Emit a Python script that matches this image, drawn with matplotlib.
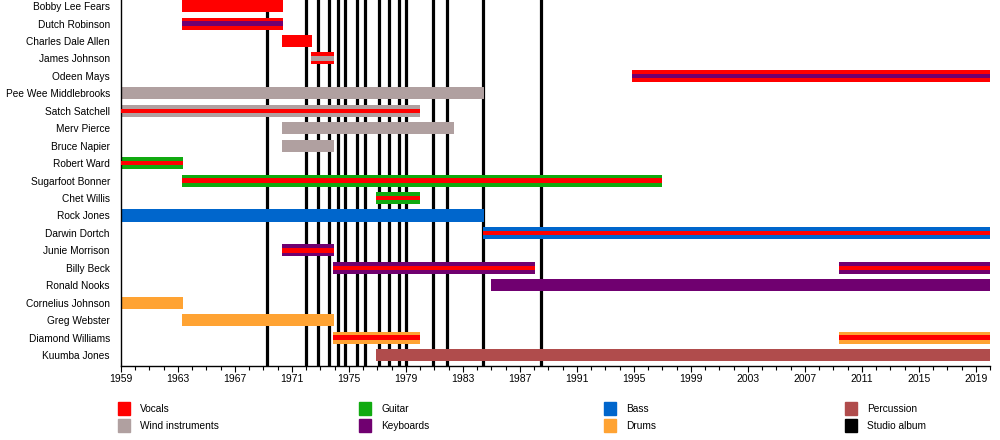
import matplotlib
matplotlib.use('Agg')
import matplotlib.pyplot as plt
from matplotlib.patches import Rectangle
from matplotlib.ticker import MultipleLocator

plt.rcParams['font.family'] = ['Liberation Sans', 'DejaVu Sans']

# band members, top to bottom
members = ['Bobby Lee Fears', 'Dutch Robinson', 'Charles Dale Allen', 'James Johnson',
           'Odeen Mays', 'Pee Wee Middlebrooks', 'Satch Satchell', 'Merv Pierce',
           'Bruce Napier', 'Robert Ward', 'Sugarfoot Bonner', 'Chet Willis',
           'Rock Jones', 'Darwin Dortch', 'Junie Morrison', 'Billy Beck',
           'Ronald Nooks', 'Cornelius Johnson', 'Greg Webster', 'Diamond Williams',
           'Kuumba Jones']

# one entry per bar: member, start, end, main role, secondary role (stripe)
span_member = ['Bobby Lee Fears', 'Dutch Robinson', 'Charles Dale Allen', 'James Johnson',
               'Odeen Mays', 'Pee Wee Middlebrooks', 'Satch Satchell', 'Merv Pierce',
               'Bruce Napier', 'Robert Ward', 'Sugarfoot Bonner', 'Chet Willis',
               'Rock Jones', 'Darwin Dortch', 'Junie Morrison', 'Billy Beck', 'Billy Beck',
               'Ronald Nooks', 'Cornelius Johnson', 'Greg Webster', 'Diamond Williams',
               'Diamond Williams', 'Diamond Williams', 'Kuumba Jones']
span_start = [1963.3, 1963.3, 1970.3, 1972.35, 1994.9, 1959, 1959, 1970.3,
              1970.3, 1959, 1963.3, 1976.9, 1959, 1984.4, 1970.3, 1973.9, 2009.4,
              1985.0, 1959, 1963.3, 1973.9, 1977.0, 2009.4, 1976.9]
span_end = [1970.35, 1970.35, 1972.4, 1973.95, 2020, 1984.5, 1980.0, 1982.4,
            1973.95, 1963.35, 1997.0, 1980.0, 1984.5, 2020, 1973.95, 1988.05, 2020,
            2020, 1963.35, 1973.95, 1977.0, 1980.0, 2020, 2020]
span_main = ['V', 'V', 'V', 'V', 'V', 'W', 'W', 'W',
             'W', 'G', 'G', 'G', 'B', 'B', 'K', 'K', 'K',
             'K', 'D', 'D', 'D', 'D', 'D', 'P']
span_stripe = [None, 'K', None, 'W', 'K', None, 'V', None,
               None, 'V', 'V', 'V', None, 'V', 'V', 'V', 'V',
               None, None, None, 'V', 'V', 'V', None]

# studio album release dates
albums = [1969.27, 1972.0, 1972.85, 1973.6, 1974.2, 1974.7, 1975.6, 1976.1,
          1977.1, 1977.8, 1978.5, 1979.0, 1980.9, 1981.9, 1984.4, 1988.5]

role_names = ['Vocals', 'Wind instruments', 'Guitar', 'Keyboards', 'Bass', 'Drums',
              'Percussion', 'Studio album']
role_keys = ['V', 'W', 'G', 'K', 'B', 'D', 'P', 'A']
role_colors = ['#ff0000', '#b0a0a0', '#10aa10', '#700070', '#0066cc', '#ffa333',
               '#b04c4c', '#000000']
colors = dict(zip(role_keys, role_colors))

fig = plt.figure(figsize=(10, 4.4), dpi=100)
ax = fig.add_axes([0.121, 0.168, 0.869, 0.832])

for x in albums:
    ax.axvline(x, color='black', lw=2.3, zorder=1)

row = {m: i for i, m in enumerate(members)}
for m, s, e, main, stripe in zip(span_member, span_start, span_end, span_main, span_stripe):
    y = row[m]
    ax.barh(y, e - s, left=s, height=0.69, color=colors[main], zorder=2)
    if stripe:
        ax.barh(y, e - s, left=s, height=0.25, color=colors[stripe], zorder=3)

ax.set_xlim(1959, 2020)
ax.set_ylim(len(members) - 1 + 0.63, -0.35)
ax.set_yticks(range(len(members)))
ax.set_yticklabels(members, fontsize=7.3)
ax.tick_params(axis='y', length=0, pad=8)
ax.set_xticks(range(1959, 2020, 4))
ax.xaxis.set_minor_locator(MultipleLocator(1))
ax.tick_params(axis='x', labelsize=7.5, length=4, width=0.8, pad=2)
ax.tick_params(axis='x', which='minor', length=3, width=0.8)
ax.spines['top'].set_visible(False)
ax.spines['right'].set_visible(False)
ax.spines['left'].set_linewidth(1)
ax.spines['bottom'].set_linewidth(1)

# legend, laid out in four columns of two
col_x = [0.118, 0.359, 0.604, 0.845]
row_y = [1 - 415 / 440, 1 - 432 / 440]
for i, (name, c) in enumerate(zip(role_names, role_colors)):
    cx = col_x[i // 2]
    cy = row_y[i % 2]
    fig.add_artist(Rectangle((cx, cy), 0.012, 13 / 440, color=c, transform=fig.transFigure))
    fig.text(cx + 0.022, cy + 6 / 440, name, fontsize=7.3, va='center')

plt.savefig('out.png')
